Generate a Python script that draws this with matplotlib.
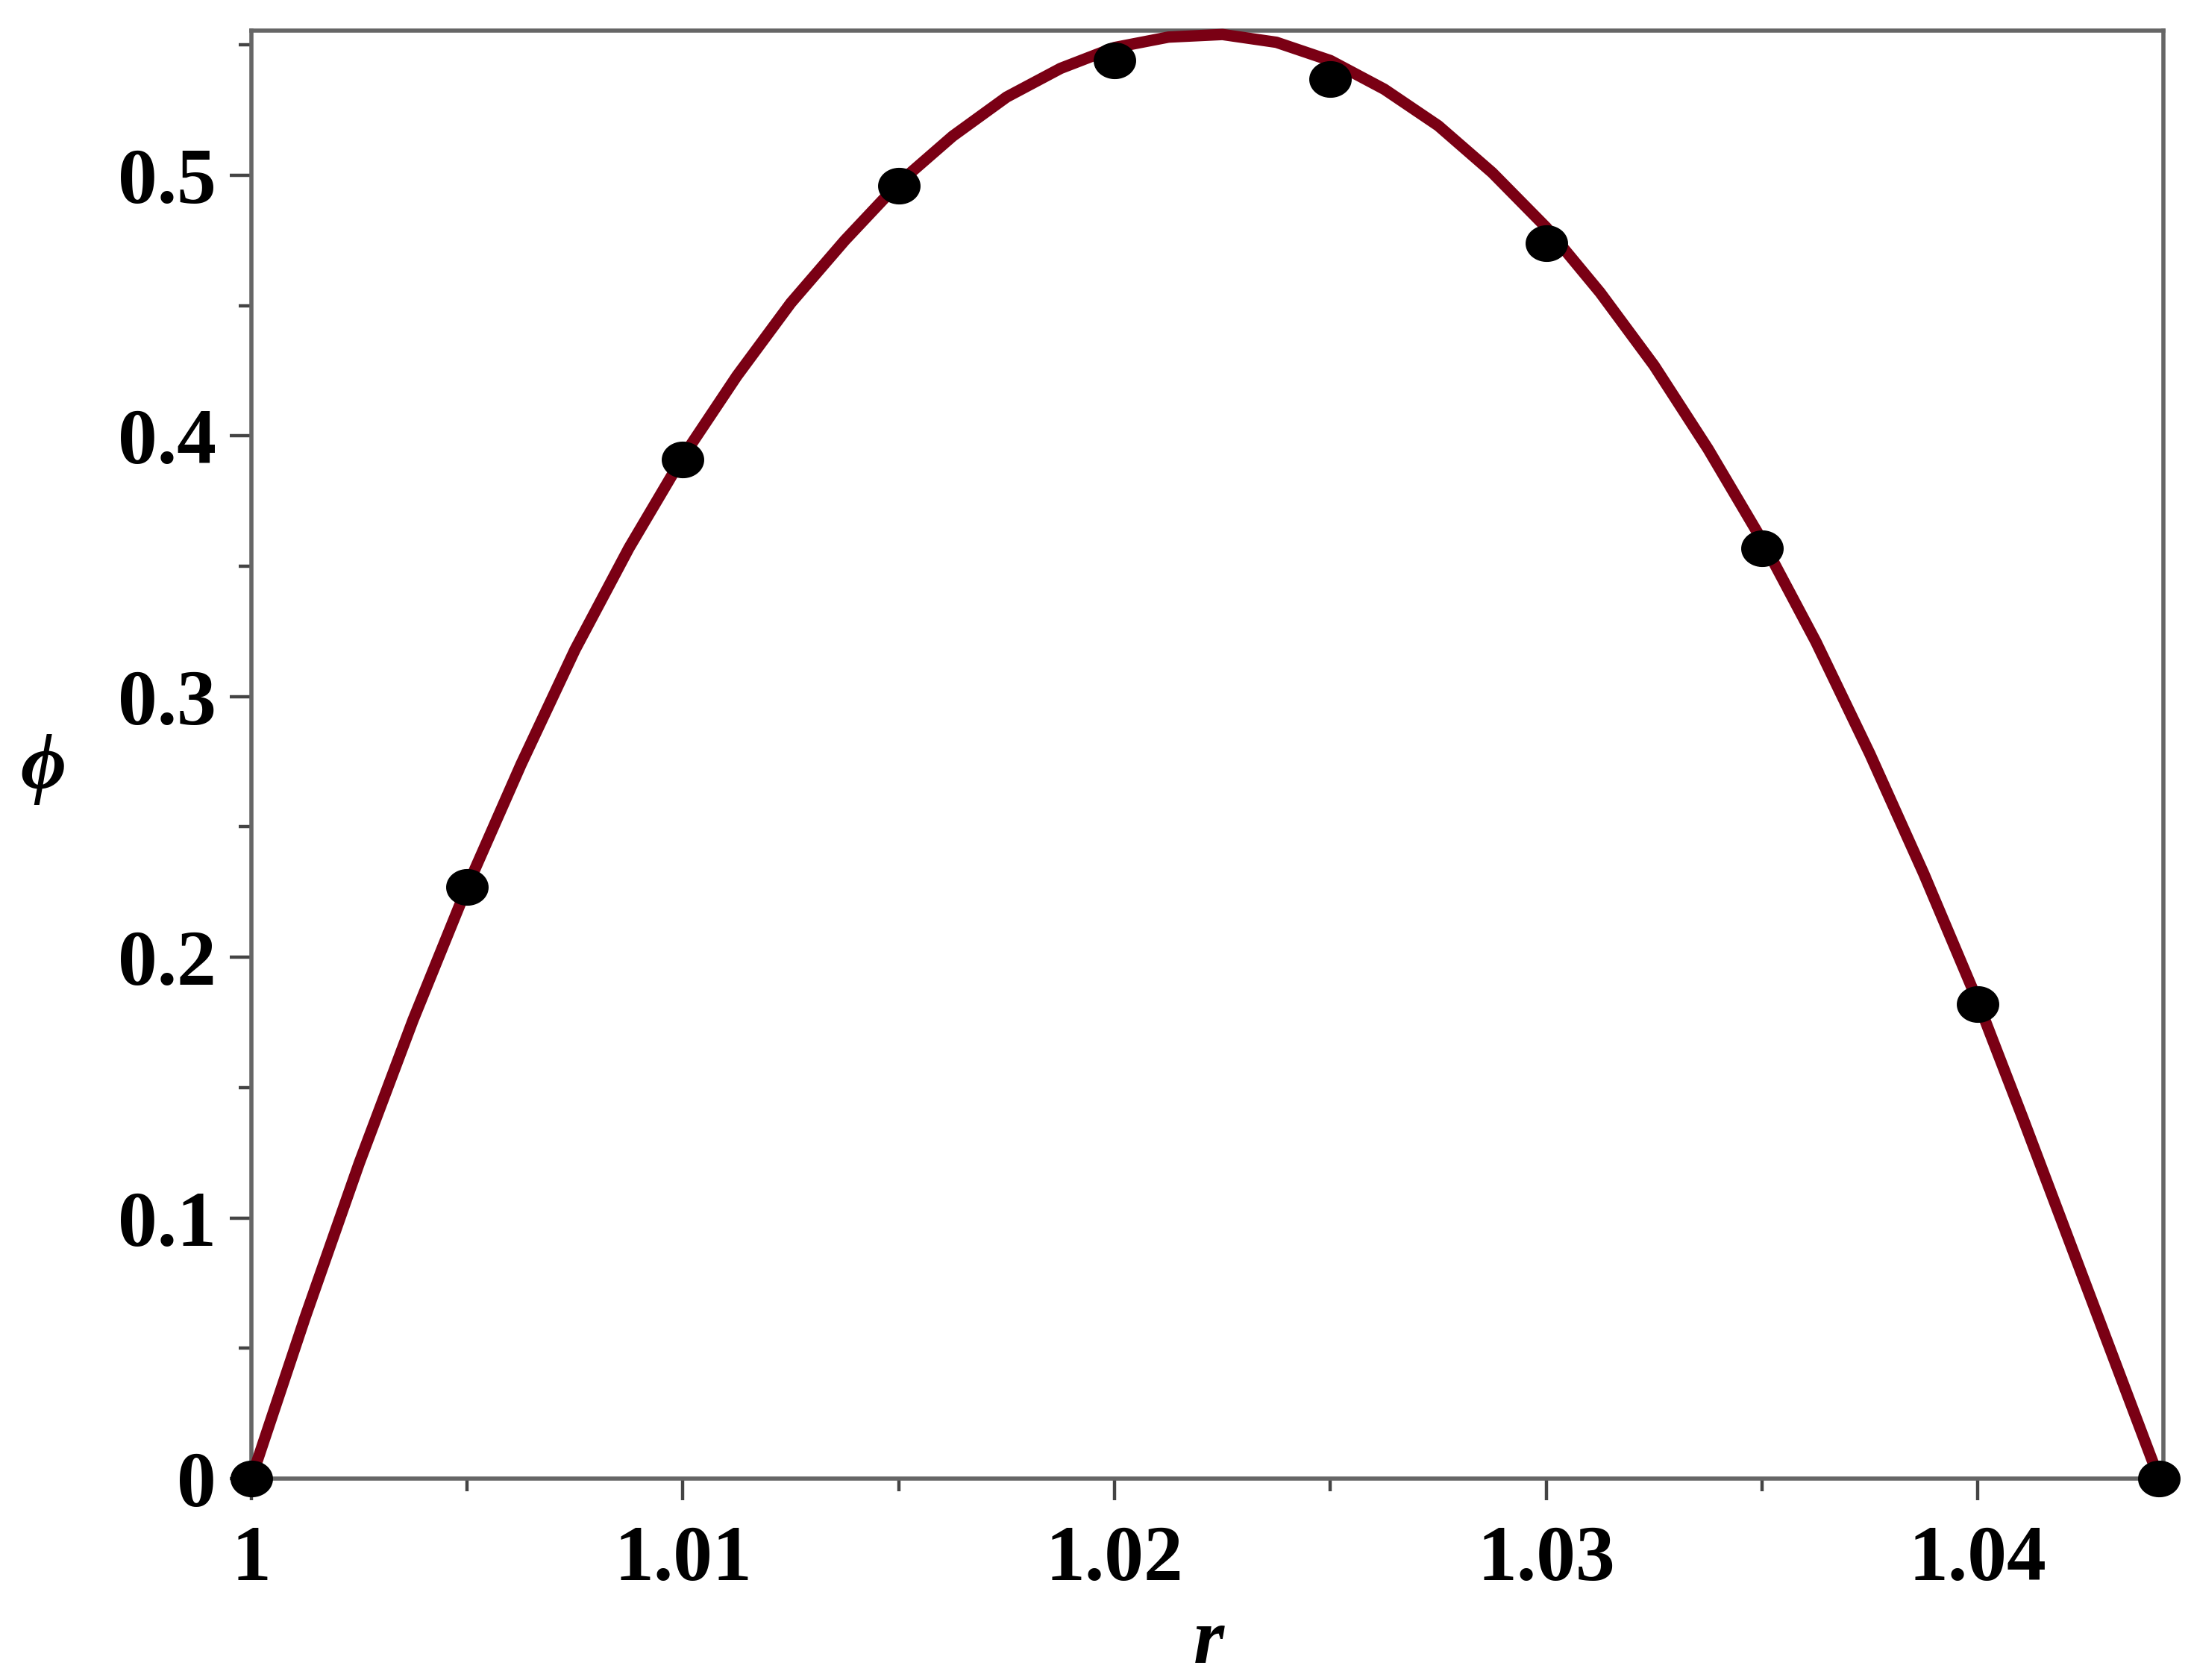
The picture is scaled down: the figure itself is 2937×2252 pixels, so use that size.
import numpy as np
import matplotlib
matplotlib.use("Agg")
import matplotlib.pyplot as plt
from matplotlib.ticker import MultipleLocator, FixedLocator
from matplotlib.path import Path

plt.rcParams['font.family'] = ['Liberation Serif', 'DejaVu Serif']
plt.rcParams['font.weight'] = 'bold'

# solid curve, values
r_curve = [1.0, 1.00125, 1.0025, 1.00375, 1.005, 1.00625, 1.0075, 1.00875,
           1.01, 1.01125, 1.0125, 1.01375, 1.015, 1.01625, 1.0175, 1.01875,
           1.02, 1.02125, 1.0225, 1.02375, 1.025, 1.02625, 1.0275, 1.02875,
           1.03, 1.03125, 1.0325, 1.03375, 1.035, 1.03625, 1.0375, 1.03875,
           1.04, 1.04105, 1.0421, 1.04315, 1.0442]
phi_curve = [0.000, 0.062, 0.121, 0.176, 0.227, 0.274, 0.318, 0.357,
             0.392, 0.423, 0.451, 0.475, 0.497, 0.515, 0.530, 0.541,
             0.549, 0.553, 0.554, 0.551, 0.544, 0.533, 0.519, 0.501,
             0.480, 0.455, 0.427, 0.395, 0.360, 0.321, 0.278, 0.232,
             0.183, 0.138, 0.092, 0.046, 0.000]

# discrete points
r_pts = [1.0, 1.005, 1.01, 1.015, 1.02, 1.025, 1.03, 1.035, 1.04, 1.0442]
phi_pts = [0.0, 0.227, 0.391, 0.496, 0.544, 0.537, 0.474, 0.357, 0.182, 0.0]

xticks = [1.0, 1.01, 1.02, 1.03, 1.04]
xticklabels = ['1', '1.01', '1.02', '1.03', '1.04']
yticks = [0, 0.1, 0.2, 0.3, 0.4, 0.5]
yticklabels = ['0', '0.1', '0.2', '0.3', '0.4', '0.5']

# slightly flattened dot like the reference
t = np.linspace(0, 2 * np.pi, 60)
dot = Path(np.column_stack([np.cos(t), 0.86 * np.sin(t)]), closed=True)

fig = plt.figure(figsize=(29.37, 22.52), dpi=100)
ax = fig.add_axes([0.1147, 0.1199, 0.8727, 0.8619])

ax.plot(r_curve, phi_curve, color='#7a0014', lw=11, clip_on=False, zorder=3,
        solid_joinstyle='round')
ax.plot(r_pts, phi_pts, linestyle='none', marker=dot, color='black', ms=40,
        clip_on=False, zorder=4)

ax.set_xlim(1.0, 1.0443)
ax.set_ylim(0, 0.5555)

ax.xaxis.set_major_locator(FixedLocator(xticks))
ax.set_xticklabels(xticklabels)
ax.xaxis.set_minor_locator(MultipleLocator(0.005))
ax.yaxis.set_major_locator(FixedLocator(yticks))
ax.set_yticklabels(yticklabels)
ax.yaxis.set_minor_locator(MultipleLocator(0.05))

for s in ax.spines.values():
    s.set_color('#666666')
    s.set_linewidth(4)

ax.tick_params(which='major', direction='out', length=21, width=3.2, color='#444444',
               labelsize=76, pad=13)
ax.tick_params(axis='x', which='major', pad=24)
ax.tick_params(which='minor', direction='out', length=12, width=3.2, color='#444444')
ax.tick_params(top=False, right=False, which='both')
for lab in ax.get_xticklabels() + ax.get_yticklabels():
    lab.set_fontweight('bold')

ax.text(0.5006, -0.114, 'r', transform=ax.transAxes, fontsize=76, fontweight='bold',
        fontstyle='italic', ha='center', va='center')
ax.text(-0.109, 0.490, '\u03d5', transform=ax.transAxes, fontsize=76, fontweight='bold',
        fontstyle='italic', ha='center', va='center')

fig.savefig('out.png', dpi=100)
